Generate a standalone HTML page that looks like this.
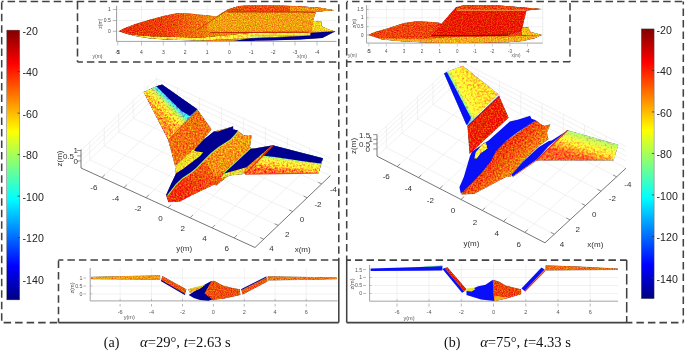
<!DOCTYPE html>
<html><head><meta charset="utf-8"><style>
html,body{margin:0;padding:0;background:#fff;}
body{width:685px;height:351px;overflow:hidden;position:relative;font-family:"Liberation Sans",sans-serif;}
svg{position:absolute;left:0;top:0;filter:blur(0.35px);}
</style></head><body>
<svg width="685" height="351" viewBox="0 0 685 351">
<defs>
<linearGradient id="jet" x1="0" y1="0" x2="0" y2="1">
<stop offset="0" stop-color="#800000"/><stop offset="0.125" stop-color="#ff0000"/>
<stop offset="0.375" stop-color="#ffff00"/><stop offset="0.625" stop-color="#00ffff"/>
<stop offset="0.875" stop-color="#0000ff"/><stop offset="1" stop-color="#000080"/>
</linearGradient>
<filter id="motR" filterUnits="userSpaceOnUse" x="0" y="0" width="685" height="351" color-interpolation-filters="sRGB">
<feTurbulence type="fractalNoise" baseFrequency="0.6" numOctaves="2" seed="3" result="t1"/>
<feColorMatrix in="t1" type="matrix" values="0 0 0 0 0.5  1 0 0 0 0  0 0 0 0 0.5  0 0 0 0 1" result="n"/>
<feComposite in="SourceGraphic" in2="n" operator="arithmetic" k1="0" k2="1" k3="1.1" k4="-0.55" result="m"/>
<feComposite in="m" in2="SourceAlpha" operator="in"/>
</filter>
<filter id="motY" filterUnits="userSpaceOnUse" x="0" y="0" width="685" height="351" color-interpolation-filters="sRGB">
<feTurbulence type="fractalNoise" baseFrequency="0.45" numOctaves="2" seed="5" result="t1"/>
<feColorMatrix in="t1" type="matrix" values="0 0 0 0 0.5  1 0 0 0 0  0 0 0 0 0.5  0 0 0 0 1" result="n"/>
<feComposite in="SourceGraphic" in2="n" operator="arithmetic" k1="0" k2="1" k3="1.1" k4="-0.47" result="m"/>
<feComposite in="m" in2="SourceAlpha" operator="in"/>
</filter>
<filter id="motI" filterUnits="userSpaceOnUse" x="0" y="0" width="685" height="351" color-interpolation-filters="sRGB">
<feTurbulence type="fractalNoise" baseFrequency="0.83" numOctaves="2" seed="8" result="t1"/>
<feColorMatrix in="t1" type="matrix" values="0 0 0 0 0.5  1 0 0 0 0  0 0 0 0 0.5  0 0 0 0 1" result="n"/>
<feComposite in="SourceGraphic" in2="n" operator="arithmetic" k1="0" k2="1" k3="0.9" k4="-0.47" result="m"/>
<feComposite in="m" in2="SourceAlpha" operator="in"/>
</filter>
</defs>
<line x1="1.7" y1="1.5" x2="338.8" y2="1.5" stroke="#424242" stroke-width="1.55" stroke-dasharray="7.5 4.02" stroke-dashoffset="5.62"/>
<line x1="1.7" y1="1.5" x2="1.7" y2="322.6" stroke="#424242" stroke-width="1.55" stroke-dasharray="7.5 4.02" stroke-dashoffset="10.69"/>
<line x1="1.7" y1="322.6" x2="58.5" y2="322.6" stroke="#424242" stroke-width="1.55" stroke-dasharray="7.5 4.02" stroke-dashoffset="9.62"/>
<line x1="58.5" y1="322.6" x2="338.8" y2="322.6" stroke="#424242" stroke-width="1.55" />
<line x1="338.8" y1="1.5" x2="338.8" y2="260" stroke="#424242" stroke-width="1.55" stroke-dasharray="7.5 4.02" stroke-dashoffset="8.77"/>
<line x1="338.8" y1="260" x2="338.8" y2="322.6" stroke="#424242" stroke-width="1.55" />
<line x1="77.5" y1="1.5" x2="77.5" y2="61.9" stroke="#424242" stroke-width="1.55" stroke-dasharray="8 3.74" stroke-dashoffset="0.00"/>
<line x1="77.5" y1="61.9" x2="338.8" y2="61.9" stroke="#424242" stroke-width="1.55" stroke-dasharray="7.5 4.02" stroke-dashoffset="2.12"/>
<line x1="58.5" y1="260" x2="338.8" y2="260" stroke="#424242" stroke-width="1.55" stroke-dasharray="7.5 4.02" stroke-dashoffset="2.62"/>
<line x1="58.5" y1="260" x2="58.5" y2="322.6" stroke="#424242" stroke-width="1.55" stroke-dasharray="7.5 4.02" stroke-dashoffset="10.92"/>
<line x1="346.7" y1="1.5" x2="683.3" y2="1.5" stroke="#424242" stroke-width="1.55" stroke-dasharray="7.5 4.02" stroke-dashoffset="6.12"/>
<line x1="346.7" y1="1.5" x2="346.7" y2="260" stroke="#424242" stroke-width="1.55" stroke-dasharray="7.5 4.02" stroke-dashoffset="11.02"/>
<line x1="346.7" y1="260" x2="346.7" y2="322.6" stroke="#424242" stroke-width="1.55" />
<line x1="346.7" y1="322.6" x2="632" y2="322.6" stroke="#424242" stroke-width="1.55" />
<line x1="632" y1="322.6" x2="683.3" y2="322.6" stroke="#424242" stroke-width="1.55" stroke-dasharray="7.5 4.02" stroke-dashoffset="7.12"/>
<line x1="683.3" y1="1.5" x2="683.3" y2="322.6" stroke="#424242" stroke-width="1.55" stroke-dasharray="7.5 4.02" stroke-dashoffset="4.52"/>
<line x1="570" y1="1.5" x2="570" y2="61.8" stroke="#424242" stroke-width="1.55" stroke-dasharray="7.5 4.02" stroke-dashoffset="9.92"/>
<line x1="346.7" y1="61.8" x2="570" y2="61.8" stroke="#424242" stroke-width="1.55" stroke-dasharray="7.5 4.02" stroke-dashoffset="2.68"/>
<line x1="346.7" y1="260.1" x2="626.7" y2="260.1" stroke="#424242" stroke-width="1.55" stroke-dasharray="7.5 4.02" stroke-dashoffset="3.22"/>
<line x1="626.7" y1="260" x2="626.7" y2="322.6" stroke="#424242" stroke-width="1.55" stroke-dasharray="10.5 3.50" stroke-dashoffset="0.00"/>
<rect x="6.8" y="30.1" width="12.9" height="269.8" fill="url(#jet)" stroke="#505050" stroke-width="0.4"/>
<text x="22.6" y="34.7" font-size="10.6" fill="#262626" text-anchor="start" font-family="Liberation Sans" >-20</text>
<line x1="17.5" y1="71.6076923076923" x2="19.7" y2="71.6076923076923" stroke="#333" stroke-width="0.8" />
<text x="22.6" y="76.2076923076923" font-size="10.6" fill="#262626" text-anchor="start" font-family="Liberation Sans" >-40</text>
<line x1="17.5" y1="113.11538461538461" x2="19.7" y2="113.11538461538461" stroke="#333" stroke-width="0.8" />
<text x="22.6" y="117.71538461538461" font-size="10.6" fill="#262626" text-anchor="start" font-family="Liberation Sans" >-60</text>
<line x1="17.5" y1="154.62307692307692" x2="19.7" y2="154.62307692307692" stroke="#333" stroke-width="0.8" />
<text x="22.6" y="159.22307692307692" font-size="10.6" fill="#262626" text-anchor="start" font-family="Liberation Sans" >-80</text>
<line x1="17.5" y1="196.13076923076923" x2="19.7" y2="196.13076923076923" stroke="#333" stroke-width="0.8" />
<text x="22.6" y="200.73076923076923" font-size="10.6" fill="#262626" text-anchor="start" font-family="Liberation Sans" >-100</text>
<line x1="17.5" y1="237.63846153846154" x2="19.7" y2="237.63846153846154" stroke="#333" stroke-width="0.8" />
<text x="22.6" y="242.23846153846154" font-size="10.6" fill="#262626" text-anchor="start" font-family="Liberation Sans" >-120</text>
<line x1="17.5" y1="279.1461538461539" x2="19.7" y2="279.1461538461539" stroke="#333" stroke-width="0.8" />
<text x="22.6" y="283.7461538461539" font-size="10.6" fill="#262626" text-anchor="start" font-family="Liberation Sans" >-140</text>
<rect x="641.3" y="28.9" width="12.8" height="269.8" fill="url(#jet)" stroke="#505050" stroke-width="0.4"/>
<text x="656.6" y="33.5" font-size="10.6" fill="#262626" text-anchor="start" font-family="Liberation Sans" >-20</text>
<line x1="651.8999999999999" y1="70.40769230769232" x2="654.0999999999999" y2="70.40769230769232" stroke="#333" stroke-width="0.8" />
<text x="656.6" y="75.00769230769231" font-size="10.6" fill="#262626" text-anchor="start" font-family="Liberation Sans" >-40</text>
<line x1="651.8999999999999" y1="111.91538461538462" x2="654.0999999999999" y2="111.91538461538462" stroke="#333" stroke-width="0.8" />
<text x="656.6" y="116.51538461538462" font-size="10.6" fill="#262626" text-anchor="start" font-family="Liberation Sans" >-60</text>
<line x1="651.8999999999999" y1="153.42307692307693" x2="654.0999999999999" y2="153.42307692307693" stroke="#333" stroke-width="0.8" />
<text x="656.6" y="158.02307692307693" font-size="10.6" fill="#262626" text-anchor="start" font-family="Liberation Sans" >-80</text>
<line x1="651.8999999999999" y1="194.93076923076924" x2="654.0999999999999" y2="194.93076923076924" stroke="#333" stroke-width="0.8" />
<text x="656.6" y="199.53076923076924" font-size="10.6" fill="#262626" text-anchor="start" font-family="Liberation Sans" >-100</text>
<line x1="651.8999999999999" y1="236.43846153846155" x2="654.0999999999999" y2="236.43846153846155" stroke="#333" stroke-width="0.8" />
<text x="656.6" y="241.03846153846155" font-size="10.6" fill="#262626" text-anchor="start" font-family="Liberation Sans" >-120</text>
<line x1="651.8999999999999" y1="277.94615384615383" x2="654.0999999999999" y2="277.94615384615383" stroke="#333" stroke-width="0.8" />
<text x="656.6" y="282.54615384615386" font-size="10.6" fill="#262626" text-anchor="start" font-family="Liberation Sans" >-140</text>
<text x="103.8" y="346.9" font-size="14" fill="#111" text-anchor="start" font-family="Liberation Serif" >(a)</text>
<text x="140" y="346.9" font-size="14.6" fill="#111" font-family="Liberation Serif"><tspan font-style="italic">α</tspan>=29°, <tspan font-style="italic">t</tspan>=2.63 s</text>
<text x="444" y="346.9" font-size="14" fill="#111" text-anchor="start" font-family="Liberation Serif" >(b)</text>
<text x="480.2" y="346.9" font-size="14.6" fill="#111" font-family="Liberation Serif"><tspan font-style="italic">α</tspan>=75°, <tspan font-style="italic">t</tspan>=4.33 s</text>
<line x1="116.5" y1="9.5" x2="336.5" y2="9.5" stroke="#e8e8e8" stroke-width="0.6" />
<line x1="116.5" y1="20.5" x2="336.5" y2="20.5" stroke="#e8e8e8" stroke-width="0.6" />
<line x1="116.5" y1="31.3" x2="336.5" y2="31.3" stroke="#e8e8e8" stroke-width="0.6" />
<line x1="117.8" y1="5.7" x2="117.8" y2="41.4" stroke="#e8e8e8" stroke-width="0.6" />
<line x1="141.5" y1="5.7" x2="141.5" y2="41.4" stroke="#e8e8e8" stroke-width="0.6" />
<line x1="163.3" y1="5.7" x2="163.3" y2="41.4" stroke="#e8e8e8" stroke-width="0.6" />
<line x1="185.2" y1="5.7" x2="185.2" y2="41.4" stroke="#e8e8e8" stroke-width="0.6" />
<line x1="207.2" y1="5.7" x2="207.2" y2="41.4" stroke="#e8e8e8" stroke-width="0.6" />
<line x1="229.4" y1="5.7" x2="229.4" y2="41.4" stroke="#e8e8e8" stroke-width="0.6" />
<line x1="251.3" y1="5.7" x2="251.3" y2="41.4" stroke="#e8e8e8" stroke-width="0.6" />
<line x1="273.3" y1="5.7" x2="273.3" y2="41.4" stroke="#e8e8e8" stroke-width="0.6" />
<line x1="295" y1="5.7" x2="295" y2="41.4" stroke="#e8e8e8" stroke-width="0.6" />
<line x1="317" y1="5.7" x2="317" y2="41.4" stroke="#e8e8e8" stroke-width="0.6" />
<line x1="116.5" y1="5.7" x2="116.5" y2="41.4" stroke="#9a9a9a" stroke-width="0.9" />
<line x1="116.5" y1="41.4" x2="336.5" y2="41.4" stroke="#9a9a9a" stroke-width="0.9" />
<line x1="112.8" y1="9.5" x2="116.5" y2="9.5" stroke="#888" stroke-width="0.6" />
<text x="110.8" y="11.3" font-size="5" fill="#444" text-anchor="end" font-family="Liberation Sans" >1</text>
<line x1="112.8" y1="20.5" x2="116.5" y2="20.5" stroke="#888" stroke-width="0.6" />
<text x="110.8" y="22.3" font-size="5" fill="#444" text-anchor="end" font-family="Liberation Sans" >0.5</text>
<line x1="112.8" y1="31.3" x2="116.5" y2="31.3" stroke="#888" stroke-width="0.6" />
<text x="110.8" y="33.1" font-size="5" fill="#444" text-anchor="end" font-family="Liberation Sans" >0</text>
<line x1="117.8" y1="41.4" x2="117.8" y2="45.5" stroke="#999" stroke-width="0.6" />
<text x="117.8" y="53.9" font-size="5" fill="#444" text-anchor="middle" font-family="Liberation Sans" >-5</text>
<line x1="141.5" y1="41.4" x2="141.5" y2="45.5" stroke="#999" stroke-width="0.6" />
<text x="141.5" y="53.9" font-size="5" fill="#444" text-anchor="middle" font-family="Liberation Sans" >4</text>
<line x1="163.3" y1="41.4" x2="163.3" y2="45.5" stroke="#999" stroke-width="0.6" />
<text x="163.3" y="53.9" font-size="5" fill="#444" text-anchor="middle" font-family="Liberation Sans" >3</text>
<line x1="185.2" y1="41.4" x2="185.2" y2="45.5" stroke="#999" stroke-width="0.6" />
<text x="185.2" y="53.9" font-size="5" fill="#444" text-anchor="middle" font-family="Liberation Sans" >2</text>
<line x1="207.2" y1="41.4" x2="207.2" y2="45.5" stroke="#999" stroke-width="0.6" />
<text x="207.2" y="53.9" font-size="5" fill="#444" text-anchor="middle" font-family="Liberation Sans" >1</text>
<line x1="229.4" y1="41.4" x2="229.4" y2="45.5" stroke="#999" stroke-width="0.6" />
<text x="229.4" y="53.9" font-size="5" fill="#444" text-anchor="middle" font-family="Liberation Sans" >0</text>
<line x1="251.3" y1="41.4" x2="251.3" y2="45.5" stroke="#999" stroke-width="0.6" />
<text x="251.3" y="53.9" font-size="5" fill="#444" text-anchor="middle" font-family="Liberation Sans" >-1</text>
<line x1="273.3" y1="41.4" x2="273.3" y2="45.5" stroke="#999" stroke-width="0.6" />
<text x="273.3" y="53.9" font-size="5" fill="#444" text-anchor="middle" font-family="Liberation Sans" >-2</text>
<line x1="295" y1="41.4" x2="295" y2="45.5" stroke="#999" stroke-width="0.6" />
<text x="295" y="53.9" font-size="5" fill="#444" text-anchor="middle" font-family="Liberation Sans" >-3</text>
<line x1="317" y1="41.4" x2="317" y2="45.5" stroke="#999" stroke-width="0.6" />
<text x="317" y="53.9" font-size="5" fill="#444" text-anchor="middle" font-family="Liberation Sans" >-4</text>
<text x="117.8" y="53.9" font-size="5" fill="#444" text-anchor="middle" font-family="Liberation Sans" >5</text>
<text x="97.5" y="58" font-size="5" fill="#555" text-anchor="middle" font-family="Liberation Sans" >y(m)</text>
<text x="302" y="58" font-size="5" fill="#555" text-anchor="middle" font-family="Liberation Sans" >x(m)</text>
<text transform="translate(101.5,23.7) rotate(-90)" font-size="5" fill="#555" text-anchor="middle" font-family="Liberation Sans">z(m)</text>
<linearGradient id="gLTI" gradientUnits="userSpaceOnUse" x1="120" y1="0" x2="225" y2="0"><stop offset="0" stop-color="#f03208"/><stop offset="0.45" stop-color="#f24a0c"/><stop offset="0.75" stop-color="#f47a10"/><stop offset="1" stop-color="#f5960f"/></linearGradient>
<g filter="url(#motI)">
<polygon points="118.4,31.3 124.0,28.2 135.0,24.0 150.0,19.4 163.0,16.0 177.1,13.1 190.0,13.4 199.4,14.5 210.0,15.5 216.5,16.4 222.0,12.8 228.3,9.2 238.8,5.9 250.0,5.3 280.0,5.6 300.0,6.2 320.0,7.8 334.1,10.2 316.0,11.8 313.0,21.0 321.6,21.7 321.6,26.3 328.8,29.6 335.4,31.5 322.3,38.1 300.0,39.5 270.0,40.3 240.0,40.8 215.0,41.0 195.0,40.6 170.0,39.8 150.0,38.4 135.0,36.0 125.0,33.5" fill="url(#gLTI)" />
<polygon points="206.0,20.5 228.3,11.8 302.6,11.8 315.7,12.5 309.8,30.2 210.0,31.5" fill="#f6a416" />
<polygon points="313.0,21.0 321.6,21.7 321.6,26.3 328.8,29.6 335.4,31.5 312.0,31.5" fill="#f8d820" />
<polygon points="228.3,9.2 238.8,5.9 250.0,5.3 280.0,5.6 300.0,6.2 320.0,7.8 334.1,10.2 316.0,11.8 302.6,11.8 226.0,11.8" fill="#f2500e" />
<polygon points="290.0,6.4 320.0,7.8 334.1,10.2 316.0,11.8 290.0,11.8" fill="#f5960f" />
</g>
<g filter="url(#motY)">
<polygon points="125.0,33.6 135.0,35.0 150.0,36.2 200.0,37.8 250.0,33.0 311.0,33.0 311.0,35.5 250.0,38.2 200.0,40.5 170.0,39.8 150.0,38.4 135.0,36.0 125.0,33.5" fill="#f0d828" />
</g>
<polyline points="250.0,35.9 311.0,35.3" fill="none" stroke="#60e0a0" stroke-width="0.9" />
<polyline points="210.0,32.7 250.0,32.5 307.8,32.2" fill="none" stroke="#c01808" stroke-width="0.9" />
<polyline points="228.0,12.0 302.0,12.0 315.0,12.4" fill="none" stroke="#a81806" stroke-width="0.8" />
<polyline points="196.8,30.2 228.3,9.5" fill="none" stroke="#d02808" stroke-width="0.8" />
<polygon points="233.6,41.0 250.0,38.3 280.0,37.3 310.4,35.5 310.4,32.8 335.4,31.3 322.3,38.1 300.0,39.6 270.0,40.5 250.0,40.9" fill="#000090" />
<line x1="101.92405063291139" y1="177.56012658227849" x2="177.3240506329114" y2="105.66012658227848" stroke="#e8e8e8" stroke-width="0.6" />
<line x1="177.3240506329114" y1="105.66012658227848" x2="177.3240506329114" y2="87.16012658227848" stroke="#e8e8e8" stroke-width="0.6" />
<line x1="123.9493670886076" y1="187.623417721519" x2="199.3493670886076" y2="115.72341772151898" stroke="#e8e8e8" stroke-width="0.6" />
<line x1="199.3493670886076" y1="115.72341772151898" x2="199.3493670886076" y2="97.22341772151898" stroke="#e8e8e8" stroke-width="0.6" />
<line x1="145.9746835443038" y1="197.6867088607595" x2="221.3746835443038" y2="125.78670886075949" stroke="#e8e8e8" stroke-width="0.6" />
<line x1="221.3746835443038" y1="125.78670886075949" x2="221.3746835443038" y2="107.28670886075949" stroke="#e8e8e8" stroke-width="0.6" />
<line x1="168.0" y1="207.75" x2="243.39999999999998" y2="135.85" stroke="#e8e8e8" stroke-width="0.6" />
<line x1="243.39999999999998" y1="135.85" x2="243.39999999999998" y2="117.35" stroke="#e8e8e8" stroke-width="0.6" />
<line x1="190.0253164556962" y1="217.8132911392405" x2="265.4253164556962" y2="145.9132911392405" stroke="#e8e8e8" stroke-width="0.6" />
<line x1="265.4253164556962" y1="145.9132911392405" x2="265.4253164556962" y2="127.4132911392405" stroke="#e8e8e8" stroke-width="0.6" />
<line x1="212.0506329113924" y1="227.876582278481" x2="287.4506329113924" y2="155.976582278481" stroke="#e8e8e8" stroke-width="0.6" />
<line x1="287.4506329113924" y1="155.976582278481" x2="287.4506329113924" y2="137.476582278481" stroke="#e8e8e8" stroke-width="0.6" />
<line x1="234.0759493670886" y1="237.93987341772151" x2="309.47594936708856" y2="166.0398734177215" stroke="#e8e8e8" stroke-width="0.6" />
<line x1="309.47594936708856" y1="166.0398734177215" x2="309.47594936708856" y2="147.5398734177215" stroke="#e8e8e8" stroke-width="0.6" />
<line x1="147.7" y1="104.39615384615385" x2="321.7" y2="183.89615384615385" stroke="#e8e8e8" stroke-width="0.6" />
<line x1="147.7" y1="104.39615384615385" x2="147.7" y2="85.89615384615385" stroke="#e8e8e8" stroke-width="0.6" />
<line x1="133.2" y1="118.22307692307692" x2="307.2" y2="197.72307692307692" stroke="#e8e8e8" stroke-width="0.6" />
<line x1="133.2" y1="118.22307692307692" x2="133.2" y2="99.72307692307692" stroke="#e8e8e8" stroke-width="0.6" />
<line x1="118.7" y1="132.05" x2="292.7" y2="211.55" stroke="#e8e8e8" stroke-width="0.6" />
<line x1="118.7" y1="132.05" x2="118.7" y2="113.55000000000001" stroke="#e8e8e8" stroke-width="0.6" />
<line x1="104.2" y1="145.87692307692308" x2="278.2" y2="225.37692307692308" stroke="#e8e8e8" stroke-width="0.6" />
<line x1="104.2" y1="145.87692307692308" x2="104.2" y2="127.37692307692308" stroke="#e8e8e8" stroke-width="0.6" />
<line x1="89.7" y1="159.70384615384614" x2="263.7" y2="239.20384615384614" stroke="#e8e8e8" stroke-width="0.6" />
<line x1="89.7" y1="159.70384615384614" x2="89.7" y2="141.20384615384614" stroke="#e8e8e8" stroke-width="0.6" />
<line x1="81" y1="160.8" x2="156.4" y2="88.89999999999999" stroke="#e8e8e8" stroke-width="0.6" />
<line x1="156.4" y1="88.89999999999999" x2="330.4" y2="168.4" stroke="#e8e8e8" stroke-width="0.6" />
<line x1="81" y1="155.7" x2="156.4" y2="83.8" stroke="#e8e8e8" stroke-width="0.6" />
<line x1="156.4" y1="83.8" x2="330.4" y2="163.29999999999998" stroke="#e8e8e8" stroke-width="0.6" />
<line x1="81" y1="150.6" x2="156.4" y2="78.69999999999999" stroke="#e8e8e8" stroke-width="0.6" />
<line x1="156.4" y1="78.69999999999999" x2="330.4" y2="158.2" stroke="#e8e8e8" stroke-width="0.6" />
<line x1="156.4" y1="96.1" x2="156.4" y2="77.6" stroke="#e8e8e8" stroke-width="0.6" />
<line x1="81" y1="168" x2="156.4" y2="96.1" stroke="#e8e8e8" stroke-width="0.6" />
<line x1="156.4" y1="96.1" x2="330.4" y2="175.6" stroke="#e8e8e8" stroke-width="0.6" />
<line x1="81" y1="149.5" x2="81" y2="168" stroke="#666" stroke-width="0.9" />
<line x1="81" y1="168" x2="255" y2="247.5" stroke="#666" stroke-width="0.9" />
<line x1="255" y1="247.5" x2="330.4" y2="175.6" stroke="#666" stroke-width="0.9" />
<line x1="77" y1="150.5" x2="81" y2="150.5" stroke="#666" stroke-width="0.7" />
<text x="78.0" y="153.3" font-size="8" fill="#333" text-anchor="end" font-family="Liberation Sans" >1</text>
<line x1="77" y1="155.9" x2="81" y2="155.9" stroke="#666" stroke-width="0.7" />
<text x="74.0" y="158.70000000000002" font-size="8" fill="#333" text-anchor="end" font-family="Liberation Sans" >0.5</text>
<line x1="77" y1="161" x2="81" y2="161" stroke="#666" stroke-width="0.7" />
<text x="78.0" y="163.8" font-size="8" fill="#333" text-anchor="end" font-family="Liberation Sans" >0</text>
<text transform="translate(61.8,158.5) rotate(-90)" font-size="8" fill="#333" text-anchor="middle" font-family="Liberation Sans">z(m)</text>
<text x="93.9" y="190.4" font-size="8" fill="#333" text-anchor="middle" font-family="Liberation Sans" >-6</text>
<text x="115.6" y="200.70000000000002" font-size="8" fill="#333" text-anchor="middle" font-family="Liberation Sans" >-4</text>
<text x="138" y="210.9" font-size="8" fill="#333" text-anchor="middle" font-family="Liberation Sans" >-2</text>
<text x="160.6" y="220.6" font-size="8" fill="#333" text-anchor="middle" font-family="Liberation Sans" >0</text>
<text x="182.8" y="230.9" font-size="8" fill="#333" text-anchor="middle" font-family="Liberation Sans" >2</text>
<text x="204.5" y="240.5" font-size="8" fill="#333" text-anchor="middle" font-family="Liberation Sans" >4</text>
<text x="226.7" y="250.8" font-size="8" fill="#333" text-anchor="middle" font-family="Liberation Sans" >6</text>
<text x="271.5" y="251.4" font-size="8" fill="#333" text-anchor="middle" font-family="Liberation Sans" >4</text>
<text x="287.3" y="236.6" font-size="8" fill="#333" text-anchor="middle" font-family="Liberation Sans" >2</text>
<text x="302" y="222.1" font-size="8" fill="#333" text-anchor="middle" font-family="Liberation Sans" >0</text>
<text x="318" y="207.3" font-size="8" fill="#333" text-anchor="middle" font-family="Liberation Sans" >-2</text>
<text x="333.5" y="192.4" font-size="8" fill="#333" text-anchor="middle" font-family="Liberation Sans" >-4</text>
<text x="184.2" y="250.8" font-size="8" fill="#333" text-anchor="middle" font-family="Liberation Sans" >y(m)</text>
<text x="302.7" y="252.4" font-size="8" fill="#333" text-anchor="middle" font-family="Liberation Sans" >x(m)</text>
<linearGradient id="gL1" gradientUnits="userSpaceOnUse" x1="141.8" y1="100.8" x2="156.3" y2="86.2"><stop offset="0" stop-color="#f58010"/><stop offset="0.3" stop-color="#f7a014"/><stop offset="0.55" stop-color="#f2d820"/><stop offset="0.75" stop-color="#b8f040"/><stop offset="0.9" stop-color="#50e8b0"/><stop offset="1" stop-color="#20c8f0"/></linearGradient>
<linearGradient id="gR1" gradientUnits="userSpaceOnUse" x1="290" y1="158.5" x2="288.3" y2="172.5"><stop offset="0" stop-color="#40d8e0"/><stop offset="0.08" stop-color="#a0f050"/><stop offset="0.25" stop-color="#e8f028"/><stop offset="0.5" stop-color="#f5d01c"/><stop offset="0.75" stop-color="#f59014"/><stop offset="1" stop-color="#f25010"/></linearGradient>
<linearGradient id="gFus" gradientUnits="userSpaceOnUse" x1="240" y1="140" x2="185" y2="195"><stop offset="0" stop-color="#f59012"/><stop offset="0.45" stop-color="#f46a0e"/><stop offset="1" stop-color="#f0300a"/></linearGradient>
<g filter="url(#motR)">
<polygon points="213.9,131.5 232.9,126.4 233.6,129.3 238.0,130.8 243.0,135.0 251.8,135.0 250.9,140.3 250.0,146.5 251.0,149.2 252.4,148.8 272.7,145.3 245.2,174.1 230.0,174.5 216.4,185.5 214.2,184.8 211.5,185.9 193.0,194.7 179.7,201.8 168.3,202.2 166.0,195.2 175.5,174.6 177.0,166.6 194.0,148.3" fill="url(#gFus)" />
<polygon points="238.0,130.8 243.0,135.0 251.8,135.0 250.9,140.3 250.0,146.5 251.0,149.2 242.7,153.3 225.9,169.2 215.0,176.0 205.0,160.0 220.0,144.4 229.2,138.1" fill="#f6a016" opacity="0.7"/>
<polygon points="175.0,166.5 192.7,149.7 194.0,149.7 203.3,151.9 199.8,156.3 183.0,169.0 178.0,172.5 175.5,174.6" fill="#eedc28" />
<polygon points="143.5,91.9 156.3,86.2 162.1,84.4 197.6,109.5 168.1,140.0" fill="url(#gL1)" filter="url(#motY)"/>
<polygon points="168.1,140.0 197.6,109.8 211.6,129.3 205.0,137.7 203.3,140.0 175.0,166.1" fill="#f4700f" />
<polygon points="272.7,145.3 323.1,158.3 318.7,173.0 245.2,174.1" fill="url(#gR1)" filter="url(#motY)"/>
<polygon points="224.0,173.5 246.5,167.2 242.1,174.3 232.0,175.3 220.9,178.3" fill="#e0e030" />
</g>
<polygon points="156.3,86.2 162.1,84.4 197.4,109.2 190.0,116.0 181.5,111.0" fill="#000090" />
<polyline points="238.1,130.6 234.0,135.5 230.1,139.6 218.4,146.9 211.1,152.7 203.8,160.0 196.0,168.0 190.5,172.5 182.4,177.7 175.8,183.9 167.4,195.0" fill="none" stroke="#b8e840" stroke-width="2.2" />
<polyline points="251.0,148.6 224.0,173.5" fill="none" stroke="#a8e850" stroke-width="2.0" />
<polygon points="213.8,131.5 218.3,131.5 233.3,126.2 232.8,129.3 238.1,130.6 234.0,135.5 230.1,139.6 218.4,146.9 211.1,152.7 203.8,160.0 196.0,168.0 190.5,172.5 182.4,177.7 175.8,183.9 167.4,195.0 166.0,195.2 170.5,185.0 176.2,173.3 183.0,169.0 199.8,156.3 203.3,152.5 194.5,151.0 195.0,149.1 203.3,140.0 205.0,138.6" fill="#000090" />
<polygon points="251.0,148.6 254.2,148.4 271.8,145.4 246.5,167.2 224.0,173.5" fill="#000090" />
<polygon points="272.7,145.3 323.1,158.3 320.9,163.6 301.5,161.0 275.0,157.0 262.1,155.5" fill="#000090" />
<polyline points="272.9,145.5 245.2,174.1" fill="none" stroke="#e83010" stroke-width="1.1" />
<polyline points="245.2,174.3 318.7,173.2" fill="none" stroke="#e84010" stroke-width="0.9" />
<polyline points="197.6,110.0 168.3,139.9" fill="none" stroke="#e85a12" stroke-width="0.7" />
<line x1="90.2" y1="278" x2="337.7" y2="278" stroke="#e8e8e8" stroke-width="0.6" />
<line x1="90.2" y1="286" x2="337.7" y2="286" stroke="#e8e8e8" stroke-width="0.6" />
<line x1="90.2" y1="293.9" x2="337.7" y2="293.9" stroke="#e8e8e8" stroke-width="0.6" />
<line x1="120.1" y1="268" x2="120.1" y2="300.9" stroke="#e8e8e8" stroke-width="0.6" />
<line x1="151.5" y1="268" x2="151.5" y2="300.9" stroke="#e8e8e8" stroke-width="0.6" />
<line x1="182.5" y1="268" x2="182.5" y2="300.9" stroke="#e8e8e8" stroke-width="0.6" />
<line x1="213.4" y1="268" x2="213.4" y2="300.9" stroke="#e8e8e8" stroke-width="0.6" />
<line x1="244.3" y1="268" x2="244.3" y2="300.9" stroke="#e8e8e8" stroke-width="0.6" />
<line x1="275.1" y1="268" x2="275.1" y2="300.9" stroke="#e8e8e8" stroke-width="0.6" />
<line x1="306.2" y1="268" x2="306.2" y2="300.9" stroke="#e8e8e8" stroke-width="0.6" />
<line x1="90.2" y1="268" x2="90.2" y2="300.9" stroke="#9a9a9a" stroke-width="0.9" />
<line x1="90.2" y1="300.9" x2="337.7" y2="300.9" stroke="#9a9a9a" stroke-width="0.9" />
<line x1="90.2" y1="278" x2="92.2" y2="278" stroke="#9a9a9a" stroke-width="0.6" />
<line x1="83.5" y1="278" x2="86" y2="278" stroke="#888" stroke-width="0.6" />
<text x="82.5" y="279.9" font-size="5.3" fill="#555" text-anchor="end" font-family="Liberation Sans" >1</text>
<line x1="90.2" y1="286" x2="92.2" y2="286" stroke="#9a9a9a" stroke-width="0.6" />
<line x1="83.5" y1="286" x2="86" y2="286" stroke="#888" stroke-width="0.6" />
<text x="82.5" y="287.9" font-size="5.3" fill="#555" text-anchor="end" font-family="Liberation Sans" >0.5</text>
<line x1="90.2" y1="293.9" x2="92.2" y2="293.9" stroke="#9a9a9a" stroke-width="0.6" />
<line x1="83.5" y1="293.9" x2="86" y2="293.9" stroke="#888" stroke-width="0.6" />
<text x="82.5" y="295.79999999999995" font-size="5.3" fill="#555" text-anchor="end" font-family="Liberation Sans" >0</text>
<line x1="120.1" y1="300.9" x2="120.1" y2="298.9" stroke="#9a9a9a" stroke-width="0.6" />
<line x1="120.1" y1="304" x2="120.1" y2="306.5" stroke="#888" stroke-width="0.6" />
<text x="120.1" y="314" font-size="5.5" fill="#555" text-anchor="middle" font-family="Liberation Sans" >-6</text>
<line x1="151.5" y1="300.9" x2="151.5" y2="298.9" stroke="#9a9a9a" stroke-width="0.6" />
<line x1="151.5" y1="304" x2="151.5" y2="306.5" stroke="#888" stroke-width="0.6" />
<text x="151.5" y="314" font-size="5.5" fill="#555" text-anchor="middle" font-family="Liberation Sans" >-4</text>
<line x1="182.5" y1="300.9" x2="182.5" y2="298.9" stroke="#9a9a9a" stroke-width="0.6" />
<line x1="182.5" y1="304" x2="182.5" y2="306.5" stroke="#888" stroke-width="0.6" />
<text x="182.5" y="314" font-size="5.5" fill="#555" text-anchor="middle" font-family="Liberation Sans" >-2</text>
<line x1="213.4" y1="300.9" x2="213.4" y2="298.9" stroke="#9a9a9a" stroke-width="0.6" />
<line x1="213.4" y1="304" x2="213.4" y2="306.5" stroke="#888" stroke-width="0.6" />
<text x="213.4" y="314" font-size="5.5" fill="#555" text-anchor="middle" font-family="Liberation Sans" >0</text>
<line x1="244.3" y1="300.9" x2="244.3" y2="298.9" stroke="#9a9a9a" stroke-width="0.6" />
<line x1="244.3" y1="304" x2="244.3" y2="306.5" stroke="#888" stroke-width="0.6" />
<text x="244.3" y="314" font-size="5.5" fill="#555" text-anchor="middle" font-family="Liberation Sans" >2</text>
<line x1="275.1" y1="300.9" x2="275.1" y2="298.9" stroke="#9a9a9a" stroke-width="0.6" />
<line x1="275.1" y1="304" x2="275.1" y2="306.5" stroke="#888" stroke-width="0.6" />
<text x="275.1" y="314" font-size="5.5" fill="#555" text-anchor="middle" font-family="Liberation Sans" >4</text>
<line x1="306.2" y1="300.9" x2="306.2" y2="298.9" stroke="#9a9a9a" stroke-width="0.6" />
<line x1="306.2" y1="304" x2="306.2" y2="306.5" stroke="#888" stroke-width="0.6" />
<text x="306.2" y="314" font-size="5.5" fill="#555" text-anchor="middle" font-family="Liberation Sans" >6</text>
<text x="129.3" y="319.3" font-size="5.6" fill="#555" text-anchor="middle" font-family="Liberation Sans" >y(m)</text>
<text transform="translate(73.6,288) rotate(-90)" font-size="5.5" fill="#555" text-anchor="middle" font-family="Liberation Sans">z(m)</text>
<polygon points="188.7,295.0 204.0,285.0 211.3,281.1 213.0,283.0 209.0,292.0 214.0,299.0 208.4,300.8 200.0,300.0 193.8,297.9" fill="#000090" />
<g filter="url(#motI)">
<polygon points="91.3,276.8 160.2,275.3 160.2,279.7 91.3,279.3" fill="#f5a018" />
<polygon points="162.4,276.0 186.5,289.2 185.0,294.3 161.0,280.4" fill="#f25a10" />
<polygon points="211.3,281.1 214.2,280.8 223.0,285.5 231.8,287.7 239.8,289.2 240.5,295.0 225.0,298.5 212.8,300.1 204.2,293.5" fill="#f25510" />
<polygon points="188.0,289.2 195.0,287.5 204.7,285.5 200.0,289.0 190.0,293.0" fill="#f5b020" />
<polygon points="241.2,289.9 266.4,277.2 267.6,281.5 242.5,294.8" fill="#f26010" />
<polygon points="267.6,276.3 300.0,276.7 337.0,277.6 337.0,279.2 300.0,280.0 267.6,280.6" fill="#f37a14" />
</g>
<polyline points="161.0,280.6 185.0,294.4" fill="none" stroke="#000090" stroke-width="1.1" />
<polyline points="241.2,289.6 266.4,276.9" fill="none" stroke="#000090" stroke-width="1.0" />
<polyline points="188.5,289.5 204.5,285.3" fill="none" stroke="#e0e030" stroke-width="0.8" />
<line x1="366.6" y1="9.5" x2="542.7" y2="9.5" stroke="#e8e8e8" stroke-width="0.6" />
<line x1="366.6" y1="17.8" x2="542.7" y2="17.8" stroke="#e8e8e8" stroke-width="0.6" />
<line x1="366.6" y1="26.6" x2="542.7" y2="26.6" stroke="#e8e8e8" stroke-width="0.6" />
<line x1="366.6" y1="35" x2="542.7" y2="35" stroke="#e8e8e8" stroke-width="0.6" />
<line x1="368.8" y1="5.1" x2="368.8" y2="43.1" stroke="#e8e8e8" stroke-width="0.6" />
<line x1="386.3" y1="5.1" x2="386.3" y2="43.1" stroke="#e8e8e8" stroke-width="0.6" />
<line x1="404" y1="5.1" x2="404" y2="43.1" stroke="#e8e8e8" stroke-width="0.6" />
<line x1="422" y1="5.1" x2="422" y2="43.1" stroke="#e8e8e8" stroke-width="0.6" />
<line x1="439.7" y1="5.1" x2="439.7" y2="43.1" stroke="#e8e8e8" stroke-width="0.6" />
<line x1="457.3" y1="5.1" x2="457.3" y2="43.1" stroke="#e8e8e8" stroke-width="0.6" />
<line x1="474.8" y1="5.1" x2="474.8" y2="43.1" stroke="#e8e8e8" stroke-width="0.6" />
<line x1="492.3" y1="5.1" x2="492.3" y2="43.1" stroke="#e8e8e8" stroke-width="0.6" />
<line x1="509.9" y1="5.1" x2="509.9" y2="43.1" stroke="#e8e8e8" stroke-width="0.6" />
<line x1="527.4" y1="5.1" x2="527.4" y2="43.1" stroke="#e8e8e8" stroke-width="0.6" />
<line x1="542.7" y1="5.1" x2="542.7" y2="43.1" stroke="#e0e0e0" stroke-width="0.6" />
<line x1="366.6" y1="5.1" x2="366.6" y2="43.1" stroke="#9a9a9a" stroke-width="0.9" />
<line x1="366.6" y1="43.1" x2="542.7" y2="43.1" stroke="#9a9a9a" stroke-width="0.9" />
<line x1="366.6" y1="9.5" x2="368.6" y2="9.5" stroke="#9a9a9a" stroke-width="0.6" />
<text x="363.5" y="11.1" font-size="4.5" fill="#444" text-anchor="end" font-family="Liberation Sans" >1.5</text>
<line x1="366.6" y1="17.8" x2="368.6" y2="17.8" stroke="#9a9a9a" stroke-width="0.6" />
<text x="363.5" y="19.400000000000002" font-size="4.5" fill="#444" text-anchor="end" font-family="Liberation Sans" >1</text>
<line x1="366.6" y1="26.6" x2="368.6" y2="26.6" stroke="#9a9a9a" stroke-width="0.6" />
<text x="363.5" y="28.200000000000003" font-size="4.5" fill="#444" text-anchor="end" font-family="Liberation Sans" >0.5</text>
<line x1="366.6" y1="35" x2="368.6" y2="35" stroke="#9a9a9a" stroke-width="0.6" />
<text x="363.5" y="36.6" font-size="4.5" fill="#444" text-anchor="end" font-family="Liberation Sans" >0</text>
<line x1="368.8" y1="44" x2="368.8" y2="46.5" stroke="#999" stroke-width="0.5" />
<text x="368.8" y="53" font-size="4.5" fill="#555" text-anchor="middle" font-family="Liberation Sans" >-5</text>
<line x1="386.3" y1="44" x2="386.3" y2="46.5" stroke="#999" stroke-width="0.5" />
<text x="386.3" y="53" font-size="4.5" fill="#555" text-anchor="middle" font-family="Liberation Sans" >4</text>
<line x1="404" y1="44" x2="404" y2="46.5" stroke="#999" stroke-width="0.5" />
<text x="404" y="53" font-size="4.5" fill="#555" text-anchor="middle" font-family="Liberation Sans" >3</text>
<line x1="422" y1="44" x2="422" y2="46.5" stroke="#999" stroke-width="0.5" />
<text x="422" y="53" font-size="4.5" fill="#555" text-anchor="middle" font-family="Liberation Sans" >2</text>
<line x1="439.7" y1="44" x2="439.7" y2="46.5" stroke="#999" stroke-width="0.5" />
<text x="439.7" y="53" font-size="4.5" fill="#555" text-anchor="middle" font-family="Liberation Sans" >1</text>
<line x1="457.3" y1="44" x2="457.3" y2="46.5" stroke="#999" stroke-width="0.5" />
<text x="457.3" y="53" font-size="4.5" fill="#555" text-anchor="middle" font-family="Liberation Sans" >0</text>
<line x1="474.8" y1="44" x2="474.8" y2="46.5" stroke="#999" stroke-width="0.5" />
<text x="474.8" y="53" font-size="4.5" fill="#555" text-anchor="middle" font-family="Liberation Sans" >-1</text>
<line x1="492.3" y1="44" x2="492.3" y2="46.5" stroke="#999" stroke-width="0.5" />
<text x="492.3" y="53" font-size="4.5" fill="#555" text-anchor="middle" font-family="Liberation Sans" >-2</text>
<line x1="509.9" y1="44" x2="509.9" y2="46.5" stroke="#999" stroke-width="0.5" />
<text x="509.9" y="53" font-size="4.5" fill="#555" text-anchor="middle" font-family="Liberation Sans" >-3</text>
<line x1="527.4" y1="44" x2="527.4" y2="46.5" stroke="#999" stroke-width="0.5" />
<text x="527.4" y="53" font-size="4.5" fill="#555" text-anchor="middle" font-family="Liberation Sans" >-4</text>
<text x="368.8" y="53" font-size="4.5" fill="#555" text-anchor="middle" font-family="Liberation Sans" >5</text>
<text x="352.5" y="57" font-size="4.5" fill="#555" text-anchor="middle" font-family="Liberation Sans" >y(m)</text>
<text x="515.9" y="57" font-size="4.5" fill="#555" text-anchor="middle" font-family="Liberation Sans" >x(m)</text>
<text transform="translate(355.6,23.6) rotate(-90)" font-size="4.5" fill="#555" text-anchor="middle" font-family="Liberation Sans">z(m)</text>
<g filter="url(#motI)">
<polygon points="368.0,35.0 374.6,32.1 389.2,27.7 403.8,23.1 415.5,21.2 425.7,21.6 438.8,22.6 441.0,23.4 450.0,35.5 508.4,35.0 521.5,31.4 521.5,27.0 528.8,27.7 529.6,31.4 542.0,35.0 534.7,38.2 523.0,40.9 508.4,42.3 460.0,43.1 425.7,42.6 403.8,41.6 381.9,39.4" fill="#f34a10" />
<polygon points="380.0,38.5 420.0,39.0 460.0,37.0 508.4,36.5 523.0,36.0 534.0,35.5 542.0,35.0 534.7,38.2 523.0,40.9 508.4,42.3 460.0,43.1 425.7,42.6 403.8,41.6 381.9,39.4" fill="#f6b020" />
<polygon points="521.5,27.0 528.8,27.7 529.6,31.4 542.0,35.0 522.0,35.0" fill="#f6c020" />
<polygon points="431.5,35.0 455.8,7.3 464.6,5.1 493.8,5.1 542.0,9.1 526.6,10.5 521.5,31.4 508.4,35.2" fill="#ee2204" />
<polygon points="456.0,8.5 462.0,5.6 493.8,5.1 542.0,9.1 526.6,10.5 456.0,10.5" fill="#f24a0c" />
</g>
<polyline points="457.0,10.3 526.0,10.3" fill="none" stroke="#f8c070" stroke-width="0.7" />
<polyline points="431.5,35.6 470.0,35.6 508.4,35.2" fill="none" stroke="#8a0a00" stroke-width="1.3" />
<line x1="397.2025316455696" y1="166.6139240506329" x2="478.2025316455696" y2="92.01392405063291" stroke="#e8e8e8" stroke-width="0.6" />
<line x1="478.2025316455696" y1="92.01392405063291" x2="478.2025316455696" y2="70.41392405063291" stroke="#e8e8e8" stroke-width="0.6" />
<line x1="418.46835443037975" y1="177.5759493670886" x2="499.46835443037975" y2="102.9759493670886" stroke="#e8e8e8" stroke-width="0.6" />
<line x1="499.46835443037975" y1="102.9759493670886" x2="499.46835443037975" y2="81.3759493670886" stroke="#e8e8e8" stroke-width="0.6" />
<line x1="439.7341772151899" y1="188.5379746835443" x2="520.7341772151899" y2="113.9379746835443" stroke="#e8e8e8" stroke-width="0.6" />
<line x1="520.7341772151899" y1="113.9379746835443" x2="520.7341772151899" y2="92.3379746835443" stroke="#e8e8e8" stroke-width="0.6" />
<line x1="461.0" y1="199.5" x2="542.0" y2="124.89999999999999" stroke="#e8e8e8" stroke-width="0.6" />
<line x1="542.0" y1="124.89999999999999" x2="542.0" y2="103.29999999999998" stroke="#e8e8e8" stroke-width="0.6" />
<line x1="482.2658227848101" y1="210.4620253164557" x2="563.2658227848101" y2="135.86202531645569" stroke="#e8e8e8" stroke-width="0.6" />
<line x1="563.2658227848101" y1="135.86202531645569" x2="563.2658227848101" y2="114.26202531645569" stroke="#e8e8e8" stroke-width="0.6" />
<line x1="503.53164556962025" y1="221.42405063291142" x2="584.5316455696202" y2="146.8240506329114" stroke="#e8e8e8" stroke-width="0.6" />
<line x1="584.5316455696202" y1="146.8240506329114" x2="584.5316455696202" y2="125.2240506329114" stroke="#e8e8e8" stroke-width="0.6" />
<line x1="524.7974683544304" y1="232.3860759493671" x2="605.7974683544304" y2="157.78607594936707" stroke="#e8e8e8" stroke-width="0.6" />
<line x1="605.7974683544304" y1="157.78607594936707" x2="605.7974683544304" y2="136.18607594936708" stroke="#e8e8e8" stroke-width="0.6" />
<line x1="448.65384615384613" y1="90.20769230769231" x2="616.6538461538462" y2="176.80769230769232" stroke="#e8e8e8" stroke-width="0.6" />
<line x1="448.65384615384613" y1="90.20769230769231" x2="448.65384615384613" y2="68.6076923076923" stroke="#e8e8e8" stroke-width="0.6" />
<line x1="433.0769230769231" y1="104.55384615384614" x2="601.0769230769231" y2="191.15384615384616" stroke="#e8e8e8" stroke-width="0.6" />
<line x1="433.0769230769231" y1="104.55384615384614" x2="433.0769230769231" y2="82.95384615384614" stroke="#e8e8e8" stroke-width="0.6" />
<line x1="417.5" y1="118.89999999999999" x2="585.5" y2="205.5" stroke="#e8e8e8" stroke-width="0.6" />
<line x1="417.5" y1="118.89999999999999" x2="417.5" y2="97.29999999999998" stroke="#e8e8e8" stroke-width="0.6" />
<line x1="401.9230769230769" y1="133.24615384615385" x2="569.9230769230769" y2="219.84615384615384" stroke="#e8e8e8" stroke-width="0.6" />
<line x1="401.9230769230769" y1="133.24615384615385" x2="401.9230769230769" y2="111.64615384615385" stroke="#e8e8e8" stroke-width="0.6" />
<line x1="386.34615384615387" y1="147.59230769230768" x2="554.3461538461538" y2="234.1923076923077" stroke="#e8e8e8" stroke-width="0.6" />
<line x1="386.34615384615387" y1="147.59230769230768" x2="386.34615384615387" y2="125.99230769230769" stroke="#e8e8e8" stroke-width="0.6" />
<line x1="377" y1="149.0" x2="458" y2="74.39999999999999" stroke="#e8e8e8" stroke-width="0.6" />
<line x1="458" y1="74.39999999999999" x2="626" y2="161.0" stroke="#e8e8e8" stroke-width="0.6" />
<line x1="377" y1="144.0" x2="458" y2="69.39999999999999" stroke="#e8e8e8" stroke-width="0.6" />
<line x1="458" y1="69.39999999999999" x2="626" y2="156.0" stroke="#e8e8e8" stroke-width="0.6" />
<line x1="377" y1="139.2" x2="458" y2="64.6" stroke="#e8e8e8" stroke-width="0.6" />
<line x1="458" y1="64.6" x2="626" y2="151.2" stroke="#e8e8e8" stroke-width="0.6" />
<line x1="377" y1="134.6" x2="458" y2="59.99999999999999" stroke="#e8e8e8" stroke-width="0.6" />
<line x1="458" y1="59.99999999999999" x2="626" y2="146.6" stroke="#e8e8e8" stroke-width="0.6" />
<line x1="458" y1="81.6" x2="458" y2="59.99999999999999" stroke="#e8e8e8" stroke-width="0.6" />
<line x1="377" y1="156.2" x2="458" y2="81.6" stroke="#e8e8e8" stroke-width="0.6" />
<line x1="458" y1="81.6" x2="626" y2="168.2" stroke="#e8e8e8" stroke-width="0.6" />
<line x1="377" y1="134.6" x2="377" y2="156.2" stroke="#666" stroke-width="0.9" />
<line x1="377" y1="156.2" x2="545" y2="242.8" stroke="#666" stroke-width="0.9" />
<line x1="545" y1="242.8" x2="626" y2="168.2" stroke="#666" stroke-width="0.9" />
<line x1="373.2" y1="134.6" x2="377" y2="134.6" stroke="#666" stroke-width="0.7" />
<text x="364.6" y="137.5" font-size="8" fill="#333" text-anchor="middle" font-family="Liberation Sans" >1.5</text>
<line x1="373.2" y1="139.4" x2="377" y2="139.4" stroke="#666" stroke-width="0.7" />
<text x="370.8" y="142.3" font-size="8" fill="#333" text-anchor="middle" font-family="Liberation Sans" >1</text>
<line x1="373.2" y1="143.9" x2="377" y2="143.9" stroke="#666" stroke-width="0.7" />
<text x="364.6" y="146.8" font-size="8" fill="#333" text-anchor="middle" font-family="Liberation Sans" >0.5</text>
<line x1="373.2" y1="149" x2="377" y2="149" stroke="#666" stroke-width="0.7" />
<text x="367.7" y="151.9" font-size="8" fill="#333" text-anchor="middle" font-family="Liberation Sans" >0</text>
<text transform="translate(356.2,145.9) rotate(-90)" font-size="8" fill="#333" text-anchor="middle" font-family="Liberation Sans">z(m)</text>
<text x="386.2" y="179.0" font-size="8" fill="#333" text-anchor="middle" font-family="Liberation Sans" >-6</text>
<text x="408.4" y="191.20000000000002" font-size="8" fill="#333" text-anchor="middle" font-family="Liberation Sans" >-4</text>
<text x="430.3" y="202.5" font-size="8" fill="#333" text-anchor="middle" font-family="Liberation Sans" >-2</text>
<text x="452.9" y="213.20000000000002" font-size="8" fill="#333" text-anchor="middle" font-family="Liberation Sans" >0</text>
<text x="475.1" y="224.70000000000002" font-size="8" fill="#333" text-anchor="middle" font-family="Liberation Sans" >2</text>
<text x="496.7" y="235.8" font-size="8" fill="#333" text-anchor="middle" font-family="Liberation Sans" >4</text>
<text x="518.7" y="246.70000000000002" font-size="8" fill="#333" text-anchor="middle" font-family="Liberation Sans" >6</text>
<text x="562" y="246.70000000000002" font-size="8" fill="#333" text-anchor="middle" font-family="Liberation Sans" >4</text>
<text x="577.8" y="231.70000000000002" font-size="8" fill="#333" text-anchor="middle" font-family="Liberation Sans" >2</text>
<text x="594.2" y="216.9" font-size="8" fill="#333" text-anchor="middle" font-family="Liberation Sans" >0</text>
<text x="612.3" y="201.1" font-size="8" fill="#333" text-anchor="middle" font-family="Liberation Sans" >-2</text>
<text x="627.9" y="186.8" font-size="8" fill="#333" text-anchor="middle" font-family="Liberation Sans" >-4</text>
<text x="471.4" y="245.6" font-size="8" fill="#333" text-anchor="middle" font-family="Liberation Sans" >y(m)</text>
<text x="595.3" y="247.3" font-size="8" fill="#333" text-anchor="middle" font-family="Liberation Sans" >x(m)</text>
<line x1="397.2025316455696" y1="166.6139240506329" x2="400.10253164556957" y2="163.91392405063291" stroke="#666" stroke-width="0.7" />
<line x1="101.92405063291139" y1="177.56012658227849" x2="104.8240506329114" y2="174.76012658227847" stroke="#666" stroke-width="0.7" />
<line x1="418.46835443037975" y1="177.5759493670886" x2="421.3683544303797" y2="174.87594936708862" stroke="#666" stroke-width="0.7" />
<line x1="123.9493670886076" y1="187.623417721519" x2="126.84936708860761" y2="184.82341772151898" stroke="#666" stroke-width="0.7" />
<line x1="439.7341772151899" y1="188.5379746835443" x2="442.6341772151899" y2="185.8379746835443" stroke="#666" stroke-width="0.7" />
<line x1="145.9746835443038" y1="197.6867088607595" x2="148.8746835443038" y2="194.88670886075948" stroke="#666" stroke-width="0.7" />
<line x1="461.0" y1="199.5" x2="463.9" y2="196.8" stroke="#666" stroke-width="0.7" />
<line x1="168.0" y1="207.75" x2="170.9" y2="204.95" stroke="#666" stroke-width="0.7" />
<line x1="482.2658227848101" y1="210.4620253164557" x2="485.1658227848101" y2="207.76202531645572" stroke="#666" stroke-width="0.7" />
<line x1="190.0253164556962" y1="217.8132911392405" x2="192.92531645569622" y2="215.0132911392405" stroke="#666" stroke-width="0.7" />
<line x1="503.53164556962025" y1="221.42405063291142" x2="506.43164556962023" y2="218.72405063291143" stroke="#666" stroke-width="0.7" />
<line x1="212.0506329113924" y1="227.876582278481" x2="214.9506329113924" y2="225.076582278481" stroke="#666" stroke-width="0.7" />
<line x1="524.7974683544304" y1="232.3860759493671" x2="527.6974683544304" y2="229.6860759493671" stroke="#666" stroke-width="0.7" />
<line x1="234.0759493670886" y1="237.93987341772151" x2="236.97594936708862" y2="235.1398734177215" stroke="#666" stroke-width="0.7" />
<line x1="616.6538461538462" y1="176.80769230769232" x2="613.0538461538462" y2="174.95769230769233" stroke="#666" stroke-width="0.7" />
<line x1="321.7" y1="183.89615384615385" x2="318.09999999999997" y2="182.24615384615385" stroke="#666" stroke-width="0.7" />
<line x1="601.0769230769231" y1="191.15384615384616" x2="597.4769230769231" y2="189.30384615384617" stroke="#666" stroke-width="0.7" />
<line x1="307.2" y1="197.72307692307692" x2="303.59999999999997" y2="196.0730769230769" stroke="#666" stroke-width="0.7" />
<line x1="585.5" y1="205.5" x2="581.9" y2="203.65" stroke="#666" stroke-width="0.7" />
<line x1="292.7" y1="211.55" x2="289.09999999999997" y2="209.9" stroke="#666" stroke-width="0.7" />
<line x1="569.9230769230769" y1="219.84615384615384" x2="566.3230769230769" y2="217.99615384615385" stroke="#666" stroke-width="0.7" />
<line x1="278.2" y1="225.37692307692308" x2="274.59999999999997" y2="223.72692307692307" stroke="#666" stroke-width="0.7" />
<line x1="554.3461538461538" y1="234.1923076923077" x2="550.7461538461538" y2="232.3423076923077" stroke="#666" stroke-width="0.7" />
<line x1="263.7" y1="239.20384615384614" x2="260.09999999999997" y2="237.55384615384614" stroke="#666" stroke-width="0.7" />
<linearGradient id="gRL1" gradientUnits="userSpaceOnUse" x1="456.4" y1="90" x2="474.1" y2="80.7"><stop offset="0" stop-color="#50e0b0"/><stop offset="0.06" stop-color="#a8f048"/><stop offset="0.18" stop-color="#e8f028"/><stop offset="0.5" stop-color="#f5e01c"/><stop offset="1" stop-color="#f5c818"/></linearGradient>
<linearGradient id="gRR" gradientUnits="userSpaceOnUse" x1="593" y1="137.5" x2="587" y2="158.5"><stop offset="0" stop-color="#98f058"/><stop offset="0.3" stop-color="#d8f030"/><stop offset="0.55" stop-color="#f5d01c"/><stop offset="0.8" stop-color="#f58a12"/><stop offset="1" stop-color="#f24a0e"/></linearGradient>
<linearGradient id="gC" gradientUnits="userSpaceOnUse" x1="505" y1="145" x2="525" y2="165"><stop offset="0" stop-color="#f03a0a"/><stop offset="0.45" stop-color="#f25a0e"/><stop offset="1" stop-color="#f5980f"/></linearGradient>
<g filter="url(#motY)">
<polygon points="444.1,73.4 446.7,72.0 462.7,65.8 498.5,94.3 467.4,125.0 466.3,124.5" fill="url(#gRL1)" />
<polygon points="567.8,130.2 618.4,144.8 613.5,160.5 536.0,160.5" fill="url(#gRR)" />
<polygon points="474.2,158.7 475.5,152.3 481.9,144.6 485.8,142.0 487.8,148.5 480.6,153.6 476.8,158.7" fill="#e8e030" />
</g>
<g filter="url(#motR)">
<polygon points="467.4,125.5 499.0,95.6 508.7,117.7 469.5,154.0 467.3,124.6" fill="#ee2204" />
<polygon points="535.9,120.2 541.8,124.8 544.4,125.8 550.5,124.2 547.0,132.5 547.9,137.8 548.8,139.0 538.6,146.3 522.2,162.5 511.2,174.9 511.2,176.4 506.1,177.1 474.0,193.9 461.6,194.6 461.4,192.0 469.0,184.0 479.0,173.0 489.0,160.0 494.0,150.0 506.3,140.8 528.0,125.5" fill="url(#gC)" />
</g>
<polygon points="509.8,121.4 518.4,119.5 530.1,115.8 531.5,118.8 535.9,120.2 528.0,125.5 516.5,133.1 506.3,140.8 496.0,151.0 490.9,161.3 480.6,174.1 470.4,184.4 462.7,192.0 460.8,193.2 459.4,187.3 463.8,177.1 470.0,156.0 472.0,151.5 488.8,140.2" fill="#0a10f5" />
<polygon points="474.2,158.7 475.5,152.3 481.9,144.6 485.8,142.0 487.8,148.5 480.6,153.6 476.8,158.7" fill="#e4e02c" filter="url(#motY)"/>
<polygon points="567.8,130.2 566.0,131.5 551.7,140.4 548.8,141.0 538.6,147.3 522.2,162.5 511.2,174.9 512.7,176.4 536.8,159.6 548.4,146.5" fill="#0a10f5" />
<polygon points="444.1,73.4 446.9,71.9 456.4,90.0 471.0,118.0 467.4,125.0 466.3,124.5" fill="#0a10f5" />
<polyline points="498.4,95.3 467.4,125.0" fill="none" stroke="#ffffff" stroke-width="0.7" />
<polyline points="498.9,95.9 467.6,125.6" fill="none" stroke="#3040ff" stroke-width="0.7" />
<polyline points="499.4,96.5 467.8,126.2" fill="none" stroke="#a01008" stroke-width="0.8" />
<polyline points="567.8,130.2 536.0,160.5" fill="none" stroke="#e02a08" stroke-width="1.1" />
<polyline points="512.7,176.8 536.8,160.0" fill="none" stroke="#e85010" stroke-width="0.9" />
<line x1="369.6" y1="269.6" x2="618" y2="269.6" stroke="#e8e8e8" stroke-width="0.6" />
<line x1="369.6" y1="277.4" x2="618" y2="277.4" stroke="#e8e8e8" stroke-width="0.6" />
<line x1="369.6" y1="285.5" x2="618" y2="285.5" stroke="#e8e8e8" stroke-width="0.6" />
<line x1="369.6" y1="293.4" x2="618" y2="293.4" stroke="#e8e8e8" stroke-width="0.6" />
<line x1="397" y1="264.9" x2="397" y2="301.2" stroke="#e8e8e8" stroke-width="0.6" />
<line x1="429" y1="264.9" x2="429" y2="301.2" stroke="#e8e8e8" stroke-width="0.6" />
<line x1="461.3" y1="264.9" x2="461.3" y2="301.2" stroke="#e8e8e8" stroke-width="0.6" />
<line x1="493.5" y1="264.9" x2="493.5" y2="301.2" stroke="#e8e8e8" stroke-width="0.6" />
<line x1="525.8" y1="264.9" x2="525.8" y2="301.2" stroke="#e8e8e8" stroke-width="0.6" />
<line x1="558" y1="264.9" x2="558" y2="301.2" stroke="#e8e8e8" stroke-width="0.6" />
<line x1="590.2" y1="264.9" x2="590.2" y2="301.2" stroke="#e8e8e8" stroke-width="0.6" />
<line x1="369.6" y1="264.9" x2="369.6" y2="301.2" stroke="#9a9a9a" stroke-width="0.9" />
<line x1="369.6" y1="301.2" x2="618" y2="301.2" stroke="#9a9a9a" stroke-width="0.9" />
<line x1="369.6" y1="269.6" x2="371.6" y2="269.6" stroke="#9a9a9a" stroke-width="0.6" />
<line x1="363" y1="269.6" x2="366" y2="269.6" stroke="#888" stroke-width="0.6" />
<text x="362.3" y="271.5" font-size="5.3" fill="#555" text-anchor="end" font-family="Liberation Sans" >1.5</text>
<line x1="369.6" y1="277.4" x2="371.6" y2="277.4" stroke="#9a9a9a" stroke-width="0.6" />
<line x1="363" y1="277.4" x2="366" y2="277.4" stroke="#888" stroke-width="0.6" />
<text x="362.3" y="279.29999999999995" font-size="5.3" fill="#555" text-anchor="end" font-family="Liberation Sans" >1</text>
<line x1="369.6" y1="285.5" x2="371.6" y2="285.5" stroke="#9a9a9a" stroke-width="0.6" />
<line x1="363" y1="285.5" x2="366" y2="285.5" stroke="#888" stroke-width="0.6" />
<text x="362.3" y="287.4" font-size="5.3" fill="#555" text-anchor="end" font-family="Liberation Sans" >0.5</text>
<line x1="369.6" y1="293.4" x2="371.6" y2="293.4" stroke="#9a9a9a" stroke-width="0.6" />
<line x1="363" y1="293.4" x2="366" y2="293.4" stroke="#888" stroke-width="0.6" />
<text x="362.3" y="295.29999999999995" font-size="5.3" fill="#555" text-anchor="end" font-family="Liberation Sans" >0</text>
<line x1="397" y1="301.2" x2="397" y2="299.2" stroke="#9a9a9a" stroke-width="0.6" />
<line x1="397" y1="303.5" x2="397" y2="306.5" stroke="#888" stroke-width="0.6" />
<text x="397" y="314.3" font-size="5.5" fill="#555" text-anchor="middle" font-family="Liberation Sans" >-6</text>
<line x1="429" y1="301.2" x2="429" y2="299.2" stroke="#9a9a9a" stroke-width="0.6" />
<line x1="429" y1="303.5" x2="429" y2="306.5" stroke="#888" stroke-width="0.6" />
<text x="429" y="314.3" font-size="5.5" fill="#555" text-anchor="middle" font-family="Liberation Sans" >-4</text>
<line x1="461.3" y1="301.2" x2="461.3" y2="299.2" stroke="#9a9a9a" stroke-width="0.6" />
<line x1="461.3" y1="303.5" x2="461.3" y2="306.5" stroke="#888" stroke-width="0.6" />
<text x="461.3" y="314.3" font-size="5.5" fill="#555" text-anchor="middle" font-family="Liberation Sans" >-2</text>
<line x1="493.5" y1="301.2" x2="493.5" y2="299.2" stroke="#9a9a9a" stroke-width="0.6" />
<line x1="493.5" y1="303.5" x2="493.5" y2="306.5" stroke="#888" stroke-width="0.6" />
<text x="493.5" y="314.3" font-size="5.5" fill="#555" text-anchor="middle" font-family="Liberation Sans" >0</text>
<line x1="525.8" y1="301.2" x2="525.8" y2="299.2" stroke="#9a9a9a" stroke-width="0.6" />
<line x1="525.8" y1="303.5" x2="525.8" y2="306.5" stroke="#888" stroke-width="0.6" />
<text x="525.8" y="314.3" font-size="5.5" fill="#555" text-anchor="middle" font-family="Liberation Sans" >2</text>
<line x1="558" y1="301.2" x2="558" y2="299.2" stroke="#9a9a9a" stroke-width="0.6" />
<line x1="558" y1="303.5" x2="558" y2="306.5" stroke="#888" stroke-width="0.6" />
<text x="558" y="314.3" font-size="5.5" fill="#555" text-anchor="middle" font-family="Liberation Sans" >4</text>
<line x1="590.2" y1="301.2" x2="590.2" y2="299.2" stroke="#9a9a9a" stroke-width="0.6" />
<line x1="590.2" y1="303.5" x2="590.2" y2="306.5" stroke="#888" stroke-width="0.6" />
<text x="590.2" y="314.3" font-size="5.5" fill="#555" text-anchor="middle" font-family="Liberation Sans" >6</text>
<text x="409" y="320" font-size="5.6" fill="#555" text-anchor="middle" font-family="Liberation Sans" >y(m)</text>
<text transform="translate(353.6,284) rotate(-90)" font-size="5.5" fill="#555" text-anchor="middle" font-family="Liberation Sans">z(m)</text>
<polygon points="370.7,268.6 420.0,267.0 442.4,265.8 442.4,270.6 420.0,270.8 370.7,271.0" fill="#0a10f5" />
<polyline points="425.0,266.6 442.4,265.9" fill="none" stroke="#50e070" stroke-width="0.6" />
<polygon points="442.4,269.0 444.6,268.0 464.3,291.4 462.0,292.8" fill="#0a10f5" />
<g filter="url(#motI)">
<polygon points="444.6,268.0 447.5,267.3 466.5,289.2 464.3,291.4" fill="#ee2204" />
<polygon points="492.8,279.7 498.6,281.2 505.9,285.5 514.7,287.7 521.2,289.2 521.2,294.3 508.8,298.0 495.7,300.9 494.2,300.9" fill="#f24a0c" />
<polygon points="545.5,265.2 580.0,266.5 617.8,268.4 617.8,270.0 580.0,270.3 545.5,270.5" fill="#f5700e" />
</g>
<polygon points="494.5,296.0 508.8,297.2 495.7,300.9 494.2,300.9" fill="#f0d020" opacity="0.8"/>
<polygon points="466.5,290.7 475.3,287.5 478.2,286.3 485.5,284.8 492.8,279.7 494.2,300.9 481.1,299.4 466.5,295.0" fill="#0a10f5" />
<polygon points="466.5,288.5 473.8,287.7 475.3,289.2 471.6,291.4 466.5,291.0" fill="#e8e030" />
<polygon points="521.4,288.5 541.5,267.6 544.7,269.6 524.6,290.9" fill="#0a10f5" />
<polyline points="524.8,291.4 545.2,270.3" fill="none" stroke="#e83008" stroke-width="1.2" />
</svg>
</body></html>
